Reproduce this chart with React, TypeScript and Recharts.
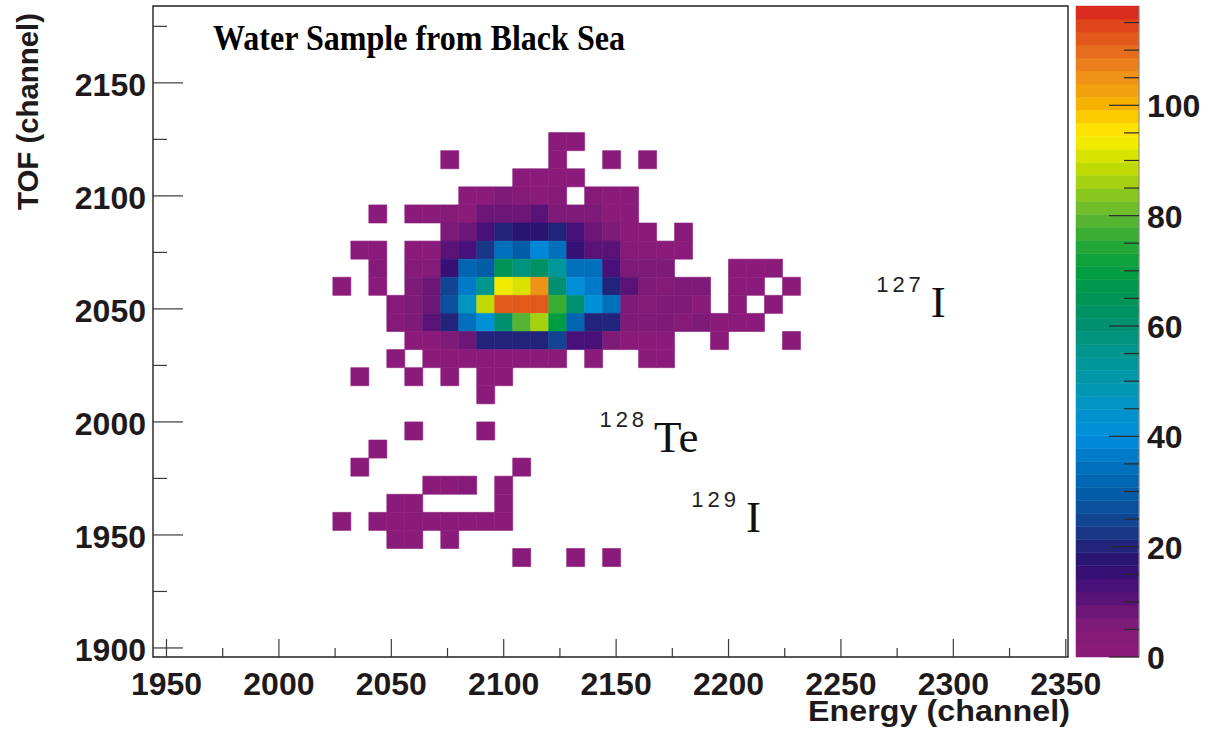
import React from "react";
import { ReferenceArea, ReferenceDot, Scatter, ScatterChart, XAxis, YAxis } from "recharts";

// bin lower edges, channels (bins are 8 channels wide)
const energyBins = [
  2024, 2032, 2040, 2048, 2056, 2064, 2072, 2080, 2088, 2096, 2104, 2112, 2120,
  2128, 2136, 2144, 2152, 2160, 2168, 2176, 2184, 2192, 2200, 2208, 2216, 2224,
];
const tofBins = [
  2120, 2112, 2104, 2096, 2088, 2080, 2072, 2064, 2056, 2048, 2040, 2032,
  2024, 2016, 2008, 2000, 1992, 1984, 1976, 1968, 1960, 1952, 1944, 1936,
];
// counts[tof row][energy column]
const counts = [
  [0, 0, 0, 0, 0, 0, 0, 0, 0, 0, 0, 0, 1, 1, 0, 0, 0, 0, 0, 0, 0, 0, 0, 0, 0, 0],
  [0, 0, 0, 0, 0, 0, 1, 0, 0, 0, 0, 0, 1, 0, 0, 1, 0, 1, 0, 0, 0, 0, 0, 0, 0, 0],
  [0, 0, 0, 0, 0, 0, 0, 0, 0, 0, 1, 1, 1, 1, 0, 0, 0, 0, 0, 0, 0, 0, 0, 0, 0, 0],
  [0, 0, 0, 0, 0, 0, 0, 1, 1, 5, 4, 1, 4, 0, 4, 1, 1, 0, 0, 0, 0, 0, 0, 0, 0, 0],
  [0, 0, 1, 0, 1, 1, 4, 1, 8, 8, 8, 11, 5, 6, 7, 1, 1, 0, 0, 0, 0, 0, 0, 0, 0, 0],
  [0, 0, 0, 0, 0, 0, 6, 9, 12, 21, 18, 18, 21, 12, 9, 5, 1, 1, 0, 1, 0, 0, 0, 0, 0, 0],
  [0, 1, 1, 0, 1, 1, 11, 14, 22, 34, 29, 39, 35, 16, 10, 10, 4, 4, 1, 1, 0, 0, 0, 0, 0, 0],
  [0, 0, 4, 0, 4, 4, 16, 31, 29, 64, 58, 62, 52, 34, 34, 14, 6, 6, 6, 0, 0, 0, 1, 1, 1, 0],
  [1, 0, 1, 0, 6, 9, 24, 37, 55, 94, 90, 106, 60, 41, 37, 21, 10, 6, 4, 6, 5, 0, 1, 1, 0, 1],
  [0, 0, 0, 4, 5, 9, 28, 46, 88, 112, 112, 111, 77, 59, 41, 34, 5, 4, 6, 6, 1, 0, 1, 0, 1, 0],
  [0, 0, 0, 4, 5, 10, 19, 34, 41, 59, 80, 85, 70, 33, 21, 21, 5, 5, 5, 4, 6, 1, 1, 1, 0, 0],
  [0, 0, 0, 0, 1, 1, 6, 9, 19, 19, 19, 21, 24, 14, 14, 5, 1, 1, 1, 0, 0, 1, 0, 0, 0, 1],
  [0, 0, 0, 1, 0, 1, 1, 1, 1, 1, 1, 1, 1, 0, 1, 0, 0, 1, 1, 0, 0, 0, 0, 0, 0, 0],
  [0, 1, 0, 0, 1, 0, 1, 0, 1, 1, 0, 0, 0, 0, 0, 0, 0, 0, 0, 0, 0, 0, 0, 0, 0, 0],
  [0, 0, 0, 0, 0, 0, 0, 0, 1, 0, 0, 0, 0, 0, 0, 0, 0, 0, 0, 0, 0, 0, 0, 0, 0, 0],
  [0, 0, 0, 0, 0, 0, 0, 0, 0, 0, 0, 0, 0, 0, 0, 0, 0, 0, 0, 0, 0, 0, 0, 0, 0, 0],
  [0, 0, 0, 0, 1, 0, 0, 0, 1, 0, 0, 0, 0, 0, 0, 0, 0, 0, 0, 0, 0, 0, 0, 0, 0, 0],
  [0, 0, 1, 0, 0, 0, 0, 0, 0, 0, 0, 0, 0, 0, 0, 0, 0, 0, 0, 0, 0, 0, 0, 0, 0, 0],
  [0, 1, 0, 0, 0, 0, 0, 0, 0, 0, 1, 0, 0, 0, 0, 0, 0, 0, 0, 0, 0, 0, 0, 0, 0, 0],
  [0, 0, 0, 0, 0, 1, 1, 3, 0, 1, 0, 0, 0, 0, 0, 0, 0, 0, 0, 0, 0, 0, 0, 0, 0, 0],
  [0, 0, 0, 1, 1, 0, 0, 0, 0, 1, 0, 0, 0, 0, 0, 0, 0, 0, 0, 0, 0, 0, 0, 0, 0, 0],
  [1, 0, 1, 1, 1, 1, 1, 1, 1, 1, 0, 0, 0, 0, 0, 0, 0, 0, 0, 0, 0, 0, 0, 0, 0, 0],
  [0, 0, 0, 1, 1, 0, 1, 0, 0, 0, 0, 0, 0, 0, 0, 0, 0, 0, 0, 0, 0, 0, 0, 0, 0, 0],
  [0, 0, 0, 0, 0, 0, 0, 0, 0, 0, 1, 0, 0, 1, 0, 1, 0, 0, 0, 0, 0, 0, 0, 0, 0, 0],
];

const xTicks = [1950, 1975, 2000, 2025, 2050, 2075, 2100, 2125, 2150, 2175, 2200, 2225, 2250, 2275, 2300, 2325, 2350];
const yTicks = [1900, 1925, 1950, 1975, 2000, 2025, 2050, 2075, 2100, 2125, 2150, 2175];
const zTicks = [0, 5, 10, 15, 20, 25, 30, 35, 40, 45, 50, 55, 60, 65, 70, 75, 80, 85, 90, 95, 100, 105, 110, 115];

const isotopes = [
  { mass: "127", symbol: "I", energy: 2290, tof: 2046.4 },
  { mass: "128", symbol: "Te", energy: 2166.9, tof: 1986.7 },
  { mass: "129", symbol: "I", energy: 2207.8, tof: 1951.3 },
];

const BIN = 8;
const E_MIN = 1944;
const E_MAX = 2351;
const T_MIN = 1896;
const T_MAX = 2184;
const Z_MAX = 118;
const N_COLORS = 50;

// colour stops (value -> colour)
const paletteStops: [number, string][] = [
  [0, "#8e1b7a"], [6, "#7e1a78"], [10, "#5e1476"], [14, "#40107a"], [17, "#2c1070"],
  [20, "#21247a"], [23, "#183a8a"], [26, "#0d4c98"], [30, "#005fa8"], [35, "#0072c0"],
  [40, "#008ede"], [45, "#0094c8"], [50, "#0098ac"], [55, "#009690"], [60, "#009070"],
  [66, "#009550"], [70, "#009e40"], [75, "#28a838"], [80, "#60b830"], [85, "#98cc18"],
  [89, "#c4dc00"], [93, "#f0ec00"], [96, "#ffe000"], [100, "#f6b400"], [105, "#ee9218"],
  [110, "#e66a1e"], [114, "#e04a1a"], [118, "#d82020"],
];

function hexToRgb(h: string) {
  return [1, 3, 5].map((i) => parseInt(h.slice(i, i + 2), 16));
}

function colorAt(v: number) {
  for (let i = 1; i < paletteStops.length; i++) {
    const [v1, c1] = paletteStops[i];
    const [v0, c0] = paletteStops[i - 1];
    if (v <= v1) {
      const t = (v - v0) / (v1 - v0);
      const a = hexToRgb(c0);
      const b = hexToRgb(c1);
      return `rgb(${a.map((x, k) => Math.round(x + (b[k] - x) * t)).join(",")})`;
    }
  }
  return paletteStops[paletteStops.length - 1][1];
}

const palette = Array.from({ length: N_COLORS }, (_, i) => colorAt(((i + 0.5) * Z_MAX) / N_COLORS));
const colorFor = (n: number) => palette[Math.min(N_COLORS - 1, Math.floor((n / Z_MAX) * N_COLORS))];

const cells = tofBins.flatMap((t, r) =>
  energyBins.map((e, c) => ({ e, t, n: counts[r][c] })).filter((d) => d.n > 0)
);

const FRAME = "#231f20";
const TICK = "#3a3a3a";
const SANS = "'Liberation Sans', Arial, Helvetica, sans-serif";
const SERIF = "'Liberation Serif', 'Times New Roman', serif";

function XTick(props: any) {
  const { x, y, payload } = props;
  const major = payload.value % 50 === 0;
  return (
    <g>
      <line x1={x} x2={x} y1={y} y2={y - (major ? 18 : 9)} stroke={TICK} strokeWidth={1.2} />
      {major && (
        <text x={x} y={y + 38} textAnchor="middle" fontFamily={SANS} fontWeight="bold" fontSize={32} fill="#1e1a1b">
          {payload.value}
        </text>
      )}
    </g>
  );
}

function YTick(props: any) {
  const { x, y, payload } = props;
  const major = payload.value % 50 === 0;
  return (
    <g>
      <line x1={x} x2={x + (major ? 30 : 14)} y1={y} y2={y} stroke={TICK} strokeWidth={1.2} />
      {major && (
        <text x={x - 7} y={y + 13.5} textAnchor="end" fontFamily={SANS} fontWeight="bold" fontSize={32} fill="#1e1a1b">
          {payload.value}
        </text>
      )}
    </g>
  );
}

function ZTick(props: any) {
  const { x, y, payload } = props;
  const major = payload.value % 20 === 0;
  return (
    <g>
      <line x1={x} x2={x - (major ? 30 : 15)} y1={y} y2={y} stroke="#2a2a2a" strokeWidth={1.2} />
      {major && (
        <text x={x + 8} y={y + 12} textAnchor="start" fontFamily={SANS} fontWeight="bold" fontSize={32} fill="#1e1a1b">
          {payload.value}
        </text>
      )}
    </g>
  );
}

function IsoLabel({ cx, cy, mass, symbol }: any) {
  return (
    <g>
      <text x={cx - 6} y={cy - 25} textAnchor="end" fontFamily={SANS} fontSize={22} letterSpacing={4} fill="#222">
        {mass}
      </text>
      <text x={cx} y={cy} fontFamily={SERIF} fontSize={45} fill="#111">
        {symbol}
      </text>
    </g>
  );
}

export default function App() {
  return (
    <div style={{ position: "absolute", left: 0, top: 0, width: 1212, height: 731, background: "#fff" }}>
      <ScatterChart width={1212} height={731} margin={{ top: 6, right: 144, bottom: 0, left: 0 }}>
        <XAxis
          type="number"
          dataKey="e"
          domain={[E_MIN, E_MAX]}
          allowDataOverflow
          ticks={xTicks}
          interval={0}
          height={74}
          tickSize={0}
          tickMargin={0}
          axisLine={false}
          tickLine={false}
          tick={(p: any) => <XTick {...p} />}
        />
        <YAxis
          type="number"
          dataKey="t"
          domain={[T_MIN, T_MAX]}
          allowDataOverflow
          ticks={yTicks}
          interval={0}
          width={153}
          tickSize={0}
          tickMargin={0}
          axisLine={false}
          tickLine={false}
          tick={(p: any) => <YTick {...p} />}
        />
        {cells.map((d) => (
          <ReferenceArea
            key={`${d.e}-${d.t}`}
            x1={d.e}
            x2={d.e + BIN}
            y1={d.t}
            y2={d.t + BIN}
            fill={colorFor(d.n)}
            fillOpacity={1}
            stroke={colorFor(d.n)}
            strokeWidth={0.6}
          />
        ))}
        <ReferenceArea x1={E_MIN} x2={E_MAX} y1={T_MIN} y2={T_MAX} fill="none" stroke={FRAME} strokeWidth={1.4} />
        <Scatter data={cells} dataKey="t" isAnimationActive={false} shape={() => <g />} />
        {isotopes.map((iso) => (
          <ReferenceDot
            key={iso.mass}
            x={iso.energy}
            y={iso.tof}
            r={1}
            shape={(p: any) => <IsoLabel cx={p.cx} cy={p.cy} mass={iso.mass} symbol={iso.symbol} />}
          />
        ))}
      </ScatterChart>

      <div style={{ position: "absolute", left: 1060, top: 0 }}>
        <ScatterChart width={152} height={731} margin={{ top: 6, right: 0, bottom: 74, left: 16 }}>
          <XAxis type="number" dataKey="x" domain={[0, 1]} hide />
          <YAxis
            type="number"
            dataKey="z"
            orientation="right"
            domain={[0, Z_MAX]}
            allowDataOverflow
            ticks={zTicks}
            interval={0}
            width={73}
            tickSize={0}
            tickMargin={0}
            axisLine={{ stroke: "#8a8a8a", strokeWidth: 1 }}
            tickLine={false}
            tick={(p: any) => <ZTick {...p} />}
          />
          {palette.map((c, i) => (
            <ReferenceArea
              key={i}
              x1={0}
              x2={1}
              y1={(i * Z_MAX) / N_COLORS}
              y2={((i + 1) * Z_MAX) / N_COLORS}
              fill={c}
              fillOpacity={1}
              stroke={c}
              strokeWidth={0.5}
            />
          ))}
          <Scatter data={[{ x: 0, z: 0 }]} dataKey="z" isAnimationActive={false} shape={() => <g />} />
        </ScatterChart>
      </div>

      <svg width={1212} height={731} style={{ position: "absolute", left: 0, top: 0, pointerEvents: "none" }}>
        <text x={213} y={50} fontFamily={SERIF} fontWeight="bold" fontSize={36} textLength={412} lengthAdjust="spacingAndGlyphs" fill="#000">
          Water Sample from Black Sea
        </text>
        <text x={1070} y={721} textAnchor="end" fontFamily={SANS} fontWeight="bold" fontSize={29} textLength={262} lengthAdjust="spacingAndGlyphs" fill="#1e1a1b">
          Energy (channel)
        </text>
        <text transform="translate(38,13) rotate(-90)" textAnchor="end" fontFamily={SANS} fontWeight="bold" fontSize={30} textLength={197} lengthAdjust="spacingAndGlyphs" fill="#1e1a1b">
          TOF (channel)
        </text>
      </svg>
    </div>
  );
}
